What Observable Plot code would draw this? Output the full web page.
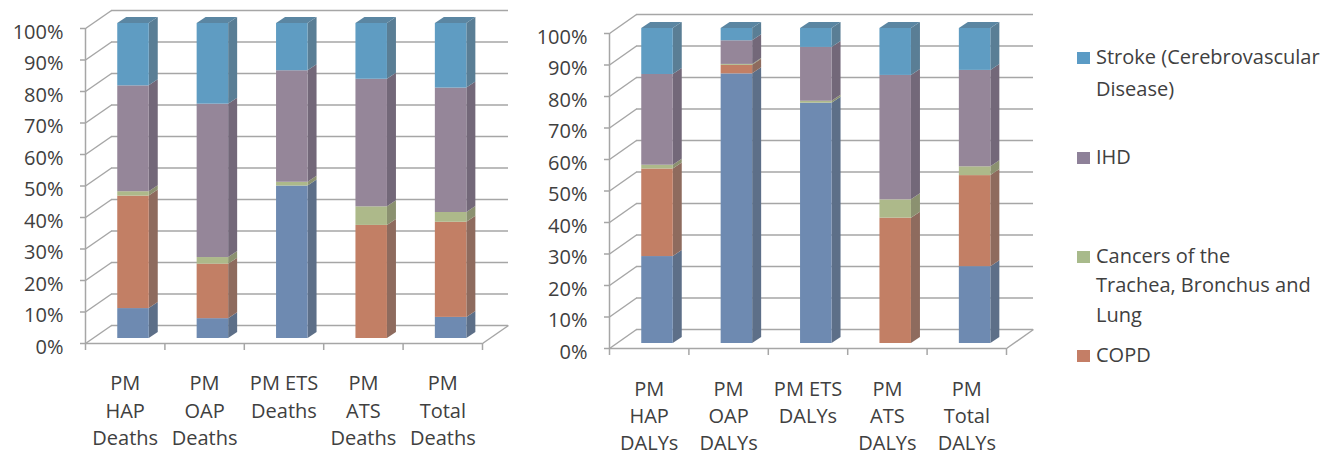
<!DOCTYPE html>
<html><head><meta charset="utf-8">
<script src="https://cdn.jsdelivr.net/npm/d3@7"></script>
<script src="https://cdn.jsdelivr.net/npm/@observablehq/plot@0.6"></script>
<style>
body{margin:0;background:#fff;}
#wrap{position:relative;width:1335px;height:456px;overflow:hidden;font-family:"Open Sans",sans-serif;color:#404040;}
.panel{position:absolute;top:0;}
.lg{position:absolute;font-size:20px;line-height:28px;white-space:nowrap;color:#404040;font-family:"Open Sans",sans-serif;}
.sw{position:absolute;width:13px;height:12px;}
</style></head><body><div id="wrap"></div>
<script>
// ---- data ----
const deathCategories = ["PM\nHAP\nDeaths", "PM\nOAP\nDeaths", "PM ETS\nDeaths", "PM\nATS\nDeaths", "PM\nTotal\nDeaths"];
const dalyCategories = ["PM\nHAP\nDALYs", "PM\nOAP\nDALYs", "PM ETS\nDALYs", "PM\nATS\nDALYs", "PM\nTotal\nDALYs"];
const seriesNames = ["ALRI", "COPD", "Cancers of the Trachea, Bronchus and Lung", "IHD", "Stroke (Cerebrovascular Disease)"];

const deathsALRI   = [9.5, 6.3, 48.4, 0, 6.7];
const deathsCOPD   = [35.7, 17.3, 0, 35.9, 30.2];
const deathsCancer = [1.4, 2.1, 1.2, 5.9, 3.1];
const deathsIHD    = [33.6, 48.7, 35.4, 40.5, 39.5];
const deathsStroke = [19.8, 25.6, 15.0, 17.7, 20.5];

const dalysALRI   = [27.6, 85.6, 76.3, 0, 24.4];
const dalysCOPD   = [27.8, 2.7, 0, 39.8, 28.9];
const dalysCancer = [1.2, 0.3, 0.6, 5.8, 2.8];
const dalysIHD    = [28.8, 7.5, 17.1, 39.5, 30.6];
const dalysStroke = [14.6, 3.9, 6.0, 14.9, 13.3];

const yTicks = [0, 10, 20, 30, 40, 50, 60, 70, 80, 90, 100];
const legendLabels = [["Stroke (Cerebrovascular", "Disease)"], ["IHD"], ["Cancers of the", "Trachea, Bronchus and", "Lung"], ["COPD"]];

// ---- styles ----
const frontColors = ["#6E8AB1", "#C27F65", "#ADB98A", "#958699", "#5F9CC2"];
const sideColors  = ["#5D6F88", "#8E6B5E", "#8B9170", "#736879", "#5A7E95"];
const topColors   = ["#637FA3", "#A8725E", "#9AA67B", "#84778A", "#5B86A2"];
const legendColors = ["#5B9BC5", "#8E8199", "#A8BA8B", "#C47E66"];
const gridColor = "#a6a6a6";
const textColor = "#404040";

function makeChart(cats, values, cfg) {
  const pxU = 79.4, pxP = 3.15;
  const x0 = cfg.x0, x1 = x0 + 5 * pxU;
  const y0 = cfg.y0, y100 = y0 - 100 * pxP;
  const wallDx = cfg.wallDx / pxU, wallDy = cfg.wallDy / pxP;
  const barShiftX = 8.3 / pxU, barDy = 5 / pxP, barW = 31.5 / pxU;
  const sideDx = 9 / pxU, sideDy = 6 / pxP;

  const segs = [];
  cats.forEach((c, i) => {
    let acc = 0;
    values.forEach((arr, s) => {
      const v = arr[i];
      if (v > 0) segs.push({i, s, lo: acc, hi: acc + v});
      acc += v;
    });
  });
  const bl = d => d.i + barShiftX - barW / 2;
  const br = d => d.i + barShiftX + barW / 2;
  const sidePts = [];
  segs.forEach((d, k) => {
    sidePts.push({key: k, x: br(d), y1: d.lo + barDy, y2: d.hi + barDy, fill: sideColors[d.s]});
    sidePts.push({key: k, x: br(d) + sideDx, y1: d.lo + barDy + sideDy, y2: d.hi + barDy + sideDy, fill: sideColors[d.s]});
  });
  const topPts = [];
  cats.forEach((c, i) => {
    const mine = segs.filter(d => d.i === i);
    const d = mine[mine.length - 1];
    topPts.push({key: i, y: d.hi + barDy, x1: bl(d), x2: br(d), fill: topColors[d.s]});
    topPts.push({key: i, y: d.hi + barDy + sideDy, x1: bl(d) + sideDx, x2: br(d) + sideDx, fill: topColors[d.s]});
  });
  const bounds = [-0.5, 0.5, 1.5, 2.5, 3.5, 4.5];

  return Plot.plot({
    width: cfg.width, height: 456,
    marginLeft: x0, marginTop: 0, marginRight: 0, marginBottom: 0,
    x: {domain: [-0.5, 4.5], range: [x0, x1], axis: null},
    y: {domain: [0, 100], range: [y0, y100], axis: null},
    color: {type: "identity"},
    style: {fontFamily: "'Open Sans', sans-serif", fontSize: "20px", background: "transparent", overflow: "visible", color: textColor},
    marks: [
      // back wall gridlines
      Plot.ruleY(yTicks, {y: d => d + wallDy, x1: -0.5 + wallDx, x2: 4.5 + wallDx, stroke: gridColor, strokeWidth: 1.5}),
      // left wall diagonals
      Plot.link(yTicks, {x1: -0.5, y1: d => d, x2: -0.5 + wallDx, y2: d => d + wallDy, stroke: gridColor, strokeWidth: 1.5}),
      // floor front edge and right diagonal
      Plot.ruleY([0], {x1: -0.5, x2: 4.5, stroke: gridColor, strokeWidth: 1.5}),
      Plot.link([0], {x1: 4.5, y1: 0, x2: 4.5 + wallDx, y2: wallDy, stroke: gridColor, strokeWidth: 1.5}),
      // front vertical axis line
      Plot.ruleX([-0.5], {y1: 0, y2: 100, stroke: gridColor, strokeWidth: 1.5}),
      // category ticks
      Plot.ruleX(bounds, {x: d => d, y1: 0, y2: -7 / pxP, stroke: gridColor, strokeWidth: 1.5}),
      // y ticks & labels
      Plot.axisY(yTicks, {anchor: "left", tickSize: 5, fill: "none", stroke: gridColor, strokeWidth: 1.5}),
      Plot.axisY(yTicks, {anchor: "left", tickSize: 0, tickPadding: 22, dy: 4, tickFormat: d => d + "%", fill: textColor, fontSize: 20}),
      // bars: side faces, front faces, top faces
      Plot.areaY(sidePts, {x: "x", y1: "y1", y2: "y2", z: "key", fill: "fill", curve: "linear"}),
      Plot.rect(segs, {x1: bl, x2: br, y1: d => d.lo + barDy, y2: d => d.hi + barDy, fill: d => frontColors[d.s]}),
      Plot.areaX(topPts, {y: "y", x1: "x1", x2: "x2", z: "key", fill: "fill", curve: "linear"}),
      // category labels
      Plot.text(cats, {x: (d, i) => i, y: 0, dy: cfg.labelDy, text: d => d, lineAnchor: "top", lineHeight: cfg.lineHeight, fontSize: 20, fill: textColor})
    ]
  });
}

const wrap = document.getElementById("wrap");
const left = makeChart(deathCategories, [deathsALRI, deathsCOPD, deathsCancer, deathsIHD, deathsStroke],
  {x0: 85, y0: 343, width: 520, wallDx: 26, wallDy: 18, labelDy: 27, lineHeight: 1.375});
left.classList.add("panel"); left.style.left = "0px";
wrap.appendChild(left);
const right = makeChart(dalyCategories, [dalysALRI, dalysCOPD, dalysCancer, dalysIHD, dalysStroke],
  {x0: 89, y0: 348, width: 540, wallDx: 27, wallDy: 19, labelDy: 28, lineHeight: 1.35});
right.classList.add("panel"); right.style.left = "520px";
wrap.appendChild(right);

// legend
const lineCenters = [[58, 90], [158], [257, 286, 316], [356]];
legendLabels.forEach((lines, k) => {
  const sw = document.createElement("div");
  sw.className = "sw";
  sw.style.left = "1077px";
  sw.style.top = (lineCenters[k][0] - 6) + "px";
  sw.style.background = legendColors[k];
  wrap.appendChild(sw);
  lines.forEach((t, j) => {
    const el = document.createElement("div");
    el.className = "lg";
    el.style.left = "1096px";
    el.style.top = (lineCenters[k][j] - 15) + "px";
    el.textContent = t;
    wrap.appendChild(el);
  });
});
</script></body></html>
